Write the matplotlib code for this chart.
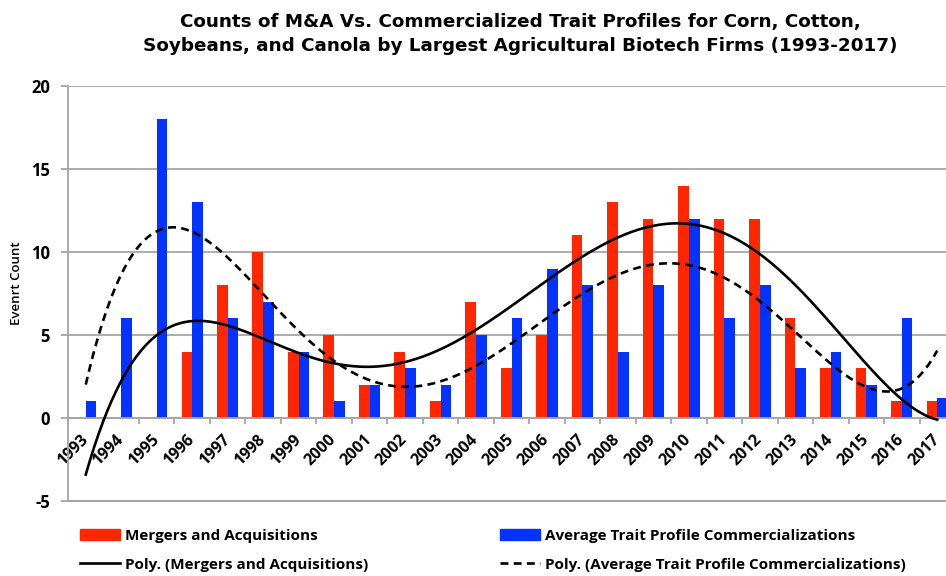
import numpy as np
import matplotlib
matplotlib.use('Agg')
import matplotlib.pyplot as plt
from matplotlib.lines import Line2D
from matplotlib.patches import Patch

plt.rcParams['axes.unicode_minus'] = False

years = list(range(1993, 2018))
mergers = [0, 0, 0, 4, 8, 10, 4, 5, 2, 4, 1, 7, 3, 5, 11, 13, 12, 14, 12, 12, 6, 3, 3, 1, 1]
traits = [1, 6, 18, 13, 6, 7, 4, 1, 2, 3, 2, 5, 6, 9, 8, 4, 8, 12, 6, 8, 3, 4, 2, 6, 1.2]
yticks = [-5, 0, 5, 10, 15, 20]
title1 = "Counts of M&A Vs. Commercialized Trait Profiles for Corn, Cotton,"
title2 = "Soybeans, and Canola by Largest Agricultural Biotech Firms (1993-2017)"
ylabel = "Evenrt Count"
lab_m = "Mergers and Acquisitions"
lab_t = "Average Trait Profile Commercializations"
lab_pm = "Poly. (Mergers and Acquisitions)"
lab_pt = "Poly. (Average Trait Profile Commercializations)"

RED = '#FF2600'
BLUE = '#0433FF'
GRAY = '#A6A6A6'
FONT = ['Open Sans', 'DejaVu Sans']
TFONT = ['DejaVu Sans']

W, H = 946, 576
fig = plt.figure(figsize=(W / 100, H / 100), dpi=100)
ax = fig.add_axes([68 / W, 75 / H, (955 - 68) / W, (501 - 86) / H])

x = np.arange(len(years))
bw = 0.3
ax.bar(x - bw / 2, mergers, width=bw, color=RED, zorder=2)
ax.bar(x + bw / 2, traits, width=bw, color=BLUE, zorder=2)

# polynomial trendlines fitted to the bar data
xs = np.linspace(0, len(years) - 1, 400)
pm = np.polyfit(x + 1, mergers, 5)
pt = np.polyfit(x + 1, traits, 5)
DASH = (0, (3.0, 2.0))
ax.plot(xs, np.polyval(pm, xs + 1), color='black', lw=1.9, zorder=3)
ax.plot(xs, np.polyval(pt, xs + 1), color='black', lw=1.9, ls=DASH, zorder=3)

ax.set_xlim(-0.5, len(years) - 0.5)
ax.set_ylim(-5, 20)
ax.set_yticks(yticks)
ax.yaxis.grid(True, color=GRAY, lw=1.3, zorder=0)
ax.set_axisbelow(True)
ax.axhline(-5, color=GRAY, lw=1.5, clip_on=False, zorder=0)

for s in ['top', 'right']:
    ax.spines[s].set_visible(False)
ax.spines['left'].set_color(GRAY)
ax.spines['left'].set_linewidth(1.3)
ax.spines['bottom'].set_position(('data', 0))
ax.spines['bottom'].set_color(GRAY)
ax.spines['bottom'].set_linewidth(1.3)

ax.set_xticks(x)
ax.set_xticklabels([str(y) for y in years])
ax.set_xticks(np.arange(-0.5, len(years), 1.0), minor=True)
ax.tick_params(axis='x', which='major', length=0, pad=14)
ax.tick_params(axis='x', which='minor', length=4, color=GRAY, width=1.3)
ax.tick_params(axis='y', length=5, color=GRAY, width=1.3, pad=8)
for lab in ax.get_xticklabels():
    lab.set_rotation(45)
    lab.set_ha('right')
    lab.set_va('center')
    lab.set_rotation_mode('anchor')
    lab.set_fontfamily(FONT)
    lab.set_fontweight('bold')
    lab.set_fontsize(11.5)
for lab in ax.get_yticklabels():
    lab.set_fontfamily(FONT)
    lab.set_fontweight('bold')
    lab.set_fontsize(12)

fig.text(17 / W, 1 - 283 / H, ylabel, rotation=90, ha='center', va='center',
         fontsize=9.5, family=FONT, fontweight='semibold')

fig.text(520 / W, 1 - 22 / H, title1, ha='center', va='center', fontsize=13.2,
         fontweight='bold', family=TFONT)
fig.text(520 / W, 1 - 46 / H, title2, ha='center', va='center', fontsize=13.2,
         fontweight='bold', family=TFONT)

lp = dict(frameon=False, loc='upper left', borderpad=0, borderaxespad=0,
          handlelength=2.65, handletextpad=0.3, labelspacing=0.95,
          prop=dict(family=FONT, weight='bold', size=11))
fig.legend([Patch(color=RED), Line2D([], [], color='black', lw=1.9)], [lab_m, lab_pm],
           bbox_to_anchor=(80 / W, 1 - 529 / H), **lp)
fig.legend([Patch(color=BLUE), Line2D([], [], color='black', lw=1.9, ls=DASH)],
           [lab_t, lab_pt], bbox_to_anchor=(500 / W, 1 - 529 / H), **lp)

fig.savefig('out.png', dpi=100)
